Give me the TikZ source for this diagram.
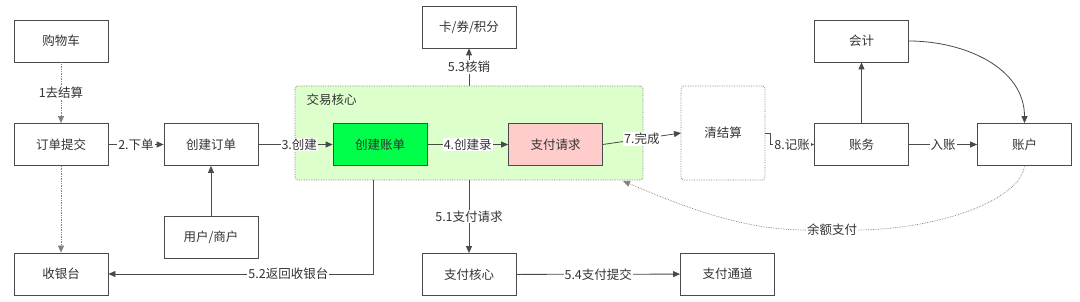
\documentclass[tikz,border=0pt]{standalone}
\usepackage{fontspec}
\setmainfont{Noto Sans CJK SC}
\usetikzlibrary{arrows.meta}
\definecolor{linec}{HTML}{4A4A4A}
\definecolor{textc}{HTML}{333333}
\definecolor{coregreen}{HTML}{DDFFCC}
\definecolor{billgreen}{HTML}{00FF4A}
\definecolor{reqpink}{HTML}{FFCCCC}
\tikzset{
  every node/.style={text=textc, font=\fontsize{12.5}{15}\selectfont},
  box/.style={draw=linec, line width=0.8pt, fill=white, minimum width=94pt, minimum height=42pt, inner sep=0pt},
  lbl/.style={fill=white, inner sep=1pt},
  conn/.style={draw=linec, line width=0.8pt, -{Triangle[length=7pt,width=6pt]}},
  plain/.style={draw=linec, line width=0.8pt},
  dconn/.style={draw=gray, line width=0.7pt, densely dotted, -{Triangle[length=7pt,width=6pt]}},
}
\begin{document}
\begin{tikzpicture}[x=1pt,y=-1pt]
\useasboundingbox (0,0) rectangle (1080,302);
% container
\node[draw=gray, densely dotted, line width=0.7pt, fill=coregreen, rounded corners=3pt, minimum width=348pt, minimum height=94pt, inner sep=0pt] (core) at (469,133) {};
\node[anchor=west] (corelbl) at (303,100) {交易核心};
% settle box
\node[draw=gray, densely dotted, line width=0.7pt, rounded corners=3pt, minimum width=84pt, minimum height=94pt, inner sep=0pt] (settle) at (723,133) {清结算};
% boxes
\node[box] (cart) at (61,41) {购物车};
\node[box] (submit) at (61,144.5) {订单提交};
\node[box] (cashier) at (61,274) {收银台};
\node[box] (order) at (211,144.5) {创建订单};
\node[box] (user) at (211,237) {用户/商户};
\node[box] (card) at (469,27) {卡/券/积分};
\node[box, fill=billgreen] (bill) at (380,144.5) {创建账单};
\node[box, fill=reqpink] (payreq) at (555.5,144.5) {支付请求};
\node[box] (paycore) at (469,274.5) {支付核心};
\node[box] (channel) at (727.5,274) {支付通道};
\node[box] (acct) at (861.5,41) {会计};
\node[box] (ledger) at (861.5,144.5) {账务};
\node[box] (account) at (1024.5,144.5) {账户};
% connectors
\draw[dconn] (cart) -- node[lbl]{1去结算} (submit);
\draw[dconn] (submit) -- (cashier);
\draw[conn] (submit) -- node[lbl]{2.下单} (order);
\draw[conn] (user) -- (order);
\draw[conn] (order) -- node[lbl, pos=0.55]{3.创建} (bill);
\draw[conn] (bill) -- node[lbl]{4.创建录} (payreq);
\coordinate (settlein) at (681,133);
\draw[conn] (payreq.east) -- node[lbl, pos=0.5]{7.完成} (settlein);
\coordinate (settleout) at (765,133);
\draw[conn] (settleout) -- ++(5,0) |- node[lbl, pos=0.75]{8.记账} (ledger.west);
\draw[conn] (ledger) -- (acct);
\draw[conn] (ledger) -- node[lbl]{入账} (account);
\draw[conn] (acct.east) to[out=0, in=90] (account.north);
\coordinate (coretop) at (469,86);
\draw[conn] (coretop) -- node[lbl]{5.3核销} (card);
\coordinate (corebot) at (469,180);
\draw[conn] (corebot) -- node[lbl]{5.1支付请求} (paycore);
\coordinate (coreret) at (373,180);
\draw[conn] (coreret) |- node[lbl, pos=0.66]{5.2返回收银台} (cashier.east);
\draw[conn] (paycore) -- node[lbl]{5.4支付提交} (channel);
\node[lbl] (yue) at (832,230) {余额支付};
\coordinate (corein) at (623,181);
\draw[draw=gray, line width=0.7pt, densely dotted] (account.south) .. controls (1020,200) and (940,229) .. (yue.east);
\draw[dconn] (yue.west) .. controls (740,230) and (680,205) .. (corein);
\end{tikzpicture}
\end{document}
